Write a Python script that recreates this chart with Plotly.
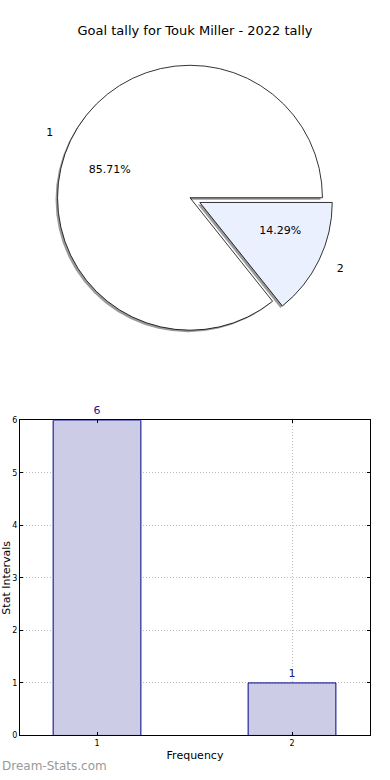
import plotly.graph_objects as go

title_text = "Goal tally for Touk Miller - 2022 tally"
categories = ["1", "2"]
values = [6, 1]
cat_pos = [1, 2]
pie_colors = ["#ffffff", "#eaf0fd"]
explode = [0, 1]  # which slice is pulled out

W, H = 390, 780
FONT = "DejaVu Sans"

# pie geometry (pixels)
cx, cy = 190, 196
R_MAIN, R_PCT, R_LBL = 134, 63, 150
PULL_PX = 11

def dom(r, pull, dx=0, dy=0):
    half = r * (1 + pull)
    return dict(x=[(cx + dx - half) / W, (cx + dx + half) / W],
                y=[(H - (cy + dy) - half) / H, (H - (cy + dy) + half) / H])

def pulls_for(r):
    p = PULL_PX / r
    return [p * e for e in explode], p

# first slice starts at 3 o'clock, counter-clockwise
rot = 90 + 360 * sum(values[1:]) / sum(values)

fig = go.Figure()
common = dict(labels=categories, values=values, sort=False,
              direction="counterclockwise", rotation=rot, showlegend=False)

pm, pmax = pulls_for(R_MAIN)
# shadow
fig.add_trace(go.Pie(**common, pull=pm, domain=dom(R_MAIN, pmax, -2, 2),
                     marker=dict(colors=["rgba(120,120,120,0.75)"] * 2, line=dict(width=0)),
                     textinfo="none", hoverinfo="skip"))
# main pie
fig.add_trace(go.Pie(**common, pull=pm, domain=dom(R_MAIN, pmax),
                     marker=dict(colors=pie_colors, line=dict(color="#000000", width=0.8)),
                     textinfo="none", hovertemplate="%{label}: %{value}<extra></extra>"))
# percentages (transparent overlay, text just outside a small radius)
pp, ppmax = pulls_for(R_PCT)
fig.add_trace(go.Pie(**common, pull=pp, domain=dom(R_PCT, ppmax),
                     marker=dict(colors=["rgba(0,0,0,0)"] * 2, line=dict(width=0)),
                     texttemplate="%{percent:.2%}", textposition="outside",
                     textfont=dict(family=FONT, size=11, color="#000000"),
                     hoverinfo="skip"))
# category labels (transparent overlay)
pl, plmax = pulls_for(R_LBL)
fig.add_trace(go.Pie(**common, pull=pl, domain=dom(R_LBL, plmax),
                     marker=dict(colors=["rgba(0,0,0,0)"] * 2, line=dict(width=0)),
                     texttemplate="%{label}", textposition="outside",
                     textfont=dict(family=FONT, size=11, color="#000000"),
                     hoverinfo="skip"))

# bar chart
fig.add_trace(go.Bar(
    x=cat_pos, y=values, width=0.45,
    marker=dict(color="#cccce6", line=dict(color="#00008b", width=1)),
    text=[str(v) for v in values], textposition="outside", cliponaxis=False,
    textfont=dict(family=FONT, size=11, color="#1a1a8c"),
    showlegend=False, xaxis="x", yaxis="y",
))

grid = dict(showgrid=True, gridcolor="#bdbdbd", griddash="1px,2px", gridwidth=1,
            showline=True, linecolor="#000000", linewidth=1, mirror="ticks",
            ticks="inside", ticklen=3, tickcolor="#000000", zeroline=False,
            tickfont=dict(size=8))

fig.update_layout(
    width=W, height=H, margin=dict(l=0, r=0, t=0, b=0),
    paper_bgcolor="white", plot_bgcolor="white",
    font=dict(family=FONT, color="#000000"),
    title=dict(text=title_text, x=0.5, xanchor="center", y=1 - 30 / H, yanchor="middle",
               font=dict(family=FONT, size=13, color="#000000")),
    xaxis=dict(domain=[20 / W, 370 / W], range=[0.605, 2.4], tickvals=cat_pos,
               ticktext=categories, **grid,
               title=dict(text="Frequency", font=dict(size=11), standoff=4)),
    yaxis=dict(domain=[40 / H, 359 / H], range=[0, 6], tickvals=[0, 1, 2, 3, 4, 5, 6],
               **grid,
               title=dict(text="Stat Intervals", font=dict(size=11), standoff=0)),
    annotations=[dict(text="Dream-Stats.com", xref="paper", yref="paper", x=0, y=0,
                      xanchor="left", yanchor="bottom", showarrow=False,
                      font=dict(family=FONT, size=12, color="#999999"))],
)

fig.write_html(
    "out.html",
    config={"displayModeBar": False},
    post_script=(
        "document.body.style.margin='0';document.body.style.padding='0';"
        "document.body.style.overflow='hidden';"
        "var g=document.querySelector('.plotly-graph-div');"
        "g.style.position='fixed';g.style.left='0';g.style.top='0';"
    ),
)
